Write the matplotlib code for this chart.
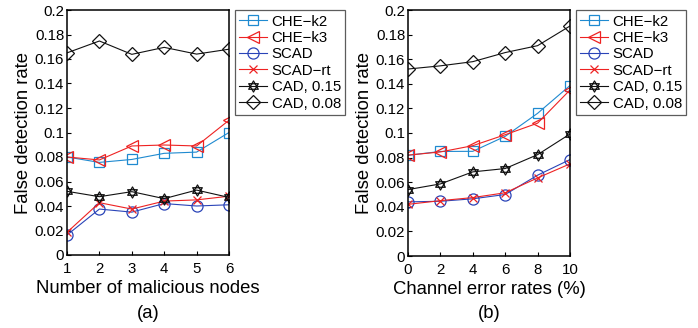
import matplotlib
matplotlib.use("Agg")
import matplotlib.pyplot as plt
import numpy as np
from matplotlib.path import Path

plt.rcParams['font.family'] = ['Liberation Sans', 'DejaVu Sans']

# ---- data (a) ----
nodes = [1, 2, 3, 4, 5, 6]
a_che_k2 = [0.080, 0.0756, 0.078, 0.083, 0.084, 0.100]
a_che_k3 = [0.080, 0.0776, 0.089, 0.0898, 0.089, 0.110]
a_scad = [0.0163, 0.0375, 0.035, 0.042, 0.040, 0.041]
a_scad_rt = [0.0185, 0.0427, 0.0375, 0.044, 0.045, 0.048]
a_cad15 = [0.052, 0.0476, 0.0517, 0.046, 0.053, 0.047]
a_cad08 = [0.165, 0.1747, 0.1638, 0.1695, 0.164, 0.168]

# ---- data (b) ----
err_rates = [0, 2, 4, 6, 8, 10]
b_che_k2 = [0.0819, 0.0850, 0.0851, 0.0973, 0.116, 0.1386]
b_che_k3 = [0.082, 0.0846, 0.0897, 0.0986, 0.108, 0.135]
b_scad = [0.044, 0.0445, 0.0465, 0.050, 0.0657, 0.0784]
b_scad_rt = [0.042, 0.045, 0.0475, 0.0514, 0.0635, 0.0749]
b_cad15 = [0.054, 0.0586, 0.0684, 0.0711, 0.0824, 0.0992]
b_cad08 = [0.152, 0.1546, 0.158, 0.1654, 0.171, 0.187]

labels = ['CHE\u2212k2', 'CHE\u2212k3', 'SCAD', 'SCAD\u2212rt', 'CAD, 0.15', 'CAD, 0.08']
yticks = [0, 0.02, 0.04, 0.06, 0.08, 0.1, 0.12, 0.14, 0.16, 0.18, 0.2]
ytick_labels = ['0', '0.02', '0.04', '0.06', '0.08', '0.1', '0.12', '0.14', '0.16', '0.18', '0.2']

# hexagram marker
ang1 = np.deg2rad([90, 210, 330, 90])
ang2 = np.deg2rad([270, 30, 150, 270])
verts = list(zip(np.cos(ang1), np.sin(ang1))) + list(zip(np.cos(ang2), np.sin(ang2)))
codes = [Path.MOVETO, Path.LINETO, Path.LINETO, Path.CLOSEPOLY] * 2
hexagram = Path(verts, codes)

c_k2 = '#1f8ad0'
c_k3 = '#ee2222'
c_scad = '#2a44b8'
c_rt = '#ee2222'
c_cad = '#111111'

styles = [
    dict(color=c_k2, marker='s', ms=7),
    dict(color=c_k3, marker='<', ms=9),
    dict(color=c_scad, marker='o', ms=8),
    dict(color=c_rt, marker='x', ms=6),
    dict(color=c_cad, marker=hexagram, ms=8),
    dict(color=c_cad, marker='D', ms=7),
]

fig = plt.figure(figsize=(6.98, 3.28), dpi=100)
ax1 = fig.add_axes([67/698, 1-255/328, 162/698, 245/328])
ax2 = fig.add_axes([408/698, 1-256/328, 162/698, 246/328])

def draw(ax, x, series, xlabel, xticks):
    for s, lab, st in zip(series, labels, styles):
        ax.plot(x, s, label=lab, color=st['color'], marker=st['marker'], ms=st['ms'],
                mfc='none', mec=st['color'], lw=0.8, mew=0.9)
    ax.set_xlim(x[0], x[-1])
    ax.set_ylim(0, 0.2)
    ax.set_yticks(yticks)
    ax.set_yticklabels(ytick_labels)
    ax.set_xticks(xticks)
    ax.tick_params(direction='in', length=3, labelsize=10.8, width=0.8, pad=2)
    ax.tick_params(axis='x', pad=5)
    for sp in ax.spines.values():
        sp.set_linewidth(1.1)
    ax.set_xlabel(xlabel, fontsize=13.3, labelpad=3)
    ax.set_ylabel('False detection rate', fontsize=13.3, labelpad=2)
    leg = ax.legend(loc='upper left', bbox_to_anchor=(1.037, 1.0), fontsize=10.8,
                    frameon=True, fancybox=False, edgecolor='#333333',
                    borderaxespad=0, handlelength=1.85, handletextpad=0.3,
                    labelspacing=0.16, borderpad=0.3)
    leg.get_frame().set_linewidth(0.9)

draw(ax1, nodes, [a_che_k2, a_che_k3, a_scad, a_scad_rt, a_cad15, a_cad08],
     'Number of malicious nodes', nodes)
draw(ax2, err_rates, [b_che_k2, b_che_k3, b_scad, b_scad_rt, b_cad15, b_cad08],
     'Channel error rates (%)', err_rates)

fig.text(148/698, 1-313/328, '(a)', ha='center', va='center', fontsize=13.3)
fig.text(489/698, 1-314/328, '(b)', ha='center', va='center', fontsize=13.3)

fig.savefig('out.png', dpi=100)
